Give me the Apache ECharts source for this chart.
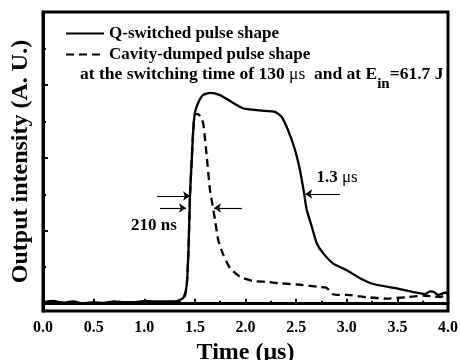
<!DOCTYPE html>
<html><head><meta charset="utf-8">
<script src="https://cdn.jsdelivr.net/npm/echarts@6/dist/echarts.min.js"></script>
<style>html,body{margin:0;padding:0;background:#fff}#c{width:460px;height:360px}</style>
</head><body><div id="c"></div>
<script>
const seriesNames = ['Q-switched pulse shape', 'Cavity-dumped pulse shape'];
const qTime = [0, 0.1, 0.2, 0.3, 0.4, 0.5, 0.6, 0.7, 0.8, 0.9, 1.0, 1.1, 1.2, 1.3, 1.35, 1.39, 1.42, 1.437, 1.452, 1.469, 1.484, 1.501, 1.531, 1.58, 1.652, 1.748, 1.847, 1.975, 2.143, 2.291, 2.357, 2.42, 2.489, 2.538, 2.578, 2.604, 2.654, 2.703, 2.768, 2.867, 3.0, 3.131, 3.262, 3.493, 3.657, 3.773, 3.822, 3.862, 3.904, 3.97, 4.0];
const qIntensity = [0.02, 0.04, 0.01, 0.03, 0.0, 0.02, 0.01, 0.03, 0.02, 0.02, 0.04, 0.03, 0.03, 0.03, 0.05, 0.09, 0.26, 0.74, 1.49, 1.97, 2.38, 2.62, 2.75, 2.86, 2.89, 2.86, 2.78, 2.68, 2.65, 2.63, 2.56, 2.38, 2.11, 1.83, 1.52, 1.29, 1.06, 0.83, 0.69, 0.55, 0.46, 0.35, 0.27, 0.21, 0.16, 0.13, 0.17, 0.16, 0.12, 0.15, 0.15];
const cdTime = [0, 0.15, 0.3, 0.45, 0.6, 0.75, 0.9, 1.05, 1.2, 1.3, 1.36, 1.40, 1.42, 1.437, 1.452, 1.469, 1.484, 1.501, 1.53, 1.565, 1.585, 1.617, 1.649, 1.666, 1.699, 1.731, 1.781, 1.847, 1.946, 2.077, 2.209, 2.341, 2.538, 2.736, 2.795, 2.83, 2.864, 2.933, 3.0, 3.197, 3.395, 3.592, 3.753, 3.852, 3.921, 3.987, 4.0];
const cdIntensity = [0.0, 0.02, 0.0, 0.01, 0.0, 0.01, 0.0, 0.01, 0.0, 0.01, 0.04, 0.1, 0.26, 0.74, 1.49, 1.97, 2.38, 2.6, 2.6, 2.55, 2.45, 2.02, 1.56, 1.42, 1.15, 0.87, 0.67, 0.49, 0.37, 0.31, 0.30, 0.28, 0.26, 0.23, 0.22, 0.18, 0.13, 0.12, 0.12, 0.09, 0.07, 0.09, 0.11, 0.10, 0.09, 0.12, 0.12];
const xTickLabelDigits = 1;
const yMajorTicks = [1, 2, 3];
const yMinorTicks = [0.5, 1.5, 2.5, 3.5];

const FONT = '"Liberation Serif", "Times New Roman", serif';
const zip = (a, b) => a.map((v, i) => [v, b[i]]);
const chart = echarts.init(document.getElementById('c'), null, {renderer: 'canvas'});

const arrowStyle = {color: '#000', width: 1.2, type: 'solid'};
const option = {
  animation: false,
  backgroundColor: '#fff',
  grid: {left: 43, right: 12, top: 12, bottom: 49, show: true, borderColor: '#000', borderWidth: 3, outerBoundsMode: 'none', containLabel: false},
  legend: {
    orient: 'vertical', left: 60, top: 20, itemWidth: 38, itemHeight: 17, itemGap: 4,
    selectedMode: false, data: seriesNames,
    itemStyle: {opacity: 0, borderWidth: 0},
    textStyle: {fontFamily: FONT, fontWeight: 'bold', fontSize: 17, color: '#000'}
  },
  xAxis: {
    type: 'value', min: 0, max: 4, interval: 0.5,
    name: 'Time (μs)', nameLocation: 'middle', nameGap: 27,
    nameTextStyle: {fontFamily: FONT, fontWeight: 'bold', fontSize: 24, color: '#000'},
    axisLine: {show: true, lineStyle: {color: '#000', width: 3}},
    axisTick: {show: true, inside: true, length: 5, lineStyle: {color: '#000', width: 2}},
    minorTick: {show: true, splitNumber: 2, length: 3, lineStyle: {color: '#000', width: 2}},
    axisLabel: {margin: 9, formatter: v => v.toFixed(xTickLabelDigits), fontFamily: FONT, fontWeight: 'bold', fontSize: 16, color: '#000'},
    splitLine: {show: false}
  },
  yAxis: [{
    type: 'value', min: -0.1, max: 4, position: 'left',
    name: 'Output intensity (A. U.)', nameLocation: 'middle', nameGap: 10,
    nameTextStyle: {fontFamily: FONT, fontWeight: 'bold', fontSize: 24, color: '#000'},
    axisLine: {show: true, lineStyle: {color: '#000', width: 3}},
    axisTick: {show: true, inside: true, length: 5, customValues: yMajorTicks, lineStyle: {color: '#000', width: 2}},
    axisLabel: {show: false},
    splitLine: {show: false}
  }, {
    type: 'value', min: -0.1, max: 4, position: 'left',
    axisLine: {show: false},
    axisTick: {show: true, inside: true, length: 3, customValues: yMinorTicks, lineStyle: {color: '#000', width: 2}},
    axisLabel: {show: false},
    splitLine: {show: false}
  }],
  series: [{
    name: seriesNames[0], type: 'line', symbol: 'none', smooth: 0.2,
    data: zip(qTime, qIntensity),
    lineStyle: {color: '#000', width: 2.3, type: 'solid'},
    itemStyle: {color: '#000'},
    markLine: {
      silent: true, symbol: ['none', 'arrow'], symbolSize: 7,
      label: {show: false}, lineStyle: arrowStyle, emphasis: {disabled: true},
      data: [
        [{coord: [1.126, 1.477]}, {coord: [1.452, 1.477]}],
        [{coord: [1.156, 1.312]}, {coord: [1.412, 1.312]}],
        [{coord: [1.965, 1.312]}, {coord: [1.689, 1.312]}],
        [{coord: [2.933, 1.504]}, {coord: [2.59, 1.504]}]
      ]
    }
  }, {
    name: seriesNames[1], type: 'line', symbol: 'none', smooth: 0.2,
    data: zip(cdTime, cdIntensity),
    lineStyle: {color: '#000', width: 2.3, type: [8, 5]},
    itemStyle: {color: '#000'}
  }],
  graphic: [
    {type: 'text', x: 80, y: 65, style: {
      text: '{a|at the switching time of 130 }{m|μs}{a|  and at E}{s|in}{a|=61.7 J}',
      fill: '#000',
      rich: {
        a: {fontFamily: FONT, fontWeight: 'bold', fontSize: 17.5, lineHeight: 17, verticalAlign: 'top', fill: '#000'},
        m: {fontFamily: FONT, fontSize: 17.5, lineHeight: 17, verticalAlign: 'top', fill: '#000'},
        s: {fontFamily: FONT, fontWeight: 'bold', fontSize: 15, lineHeight: 15, padding: [12, 0, 0, 0], verticalAlign: 'top', fill: '#000'}
      }
    }},
    {type: 'text', x: 154, y: 226, style: {text: '210 ns', font: 'bold 17px ' + FONT, fill: '#000', align: 'center', verticalAlign: 'middle'}},
    {type: 'text', x: 337, y: 178, style: {
      text: '{a|1.3 }{m|μs}', align: 'center', verticalAlign: 'middle',
      rich: {
        a: {fontFamily: FONT, fontWeight: 'bold', fontSize: 17, fill: '#000'},
        m: {fontFamily: FONT, fontSize: 17, fill: '#000'}
      }
    }}
  ]
};
chart.setOption(option);
</script>
</body></html>
